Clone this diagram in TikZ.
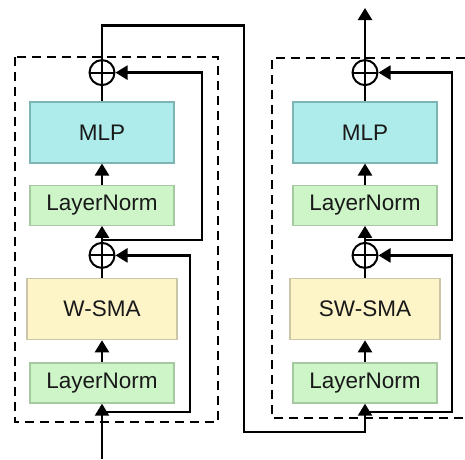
\documentclass[tikz,border=0pt]{standalone}
\usepackage{fontspec}
\setmainfont{Liberation Sans}
\usetikzlibrary{positioning,arrows.meta}
\definecolor{mlpfill}{HTML}{AEEBEB}
\definecolor{mlpline}{HTML}{7DB5B5}
\definecolor{normfill}{HTML}{CDF5C8}
\definecolor{normline}{HTML}{A6C9A2}
\definecolor{attnfill}{HTML}{FDF4C8}
\definecolor{attnline}{HTML}{CBC6A8}
\begin{document}
\begin{tikzpicture}[x=1pt,y=-1pt,node distance=20pt,
blk/.style={draw,line width=1.4pt,minimum width=144pt,font=\fontsize{22.5}{26}\selectfont,text=black!90},
mlp/.style={blk,fill=mlpfill,draw=mlpline,minimum height=61pt},
norm/.style={blk,fill=normfill,draw=normline,minimum height=40pt},
attn/.style={blk,fill=attnfill,draw=attnline,minimum width=150pt,minimum height=61pt},
plus/.style={draw,circle,line width=2pt,minimum size=25pt,inner sep=0pt,
  path picture={\draw[line width=2pt](path picture bounding box.north)--(path picture bounding box.south)
  (path picture bounding box.west)--(path picture bounding box.east);}},
line/.style={line width=2.4pt},
arrow/.style={line,-{Triangle[length=12pt,width=14pt]}},
frame/.style={line width=2pt,dash pattern=on 9pt off 6pt}]
\useasboundingbox (0,0) rectangle (465,459);
% first block
\node[norm](lnA) at (102,383){LayerNorm};
\node[attn,above=22pt of lnA](wsma){W-SMA};
\node[plus,above=9pt of wsma](addA){};
\node[norm,above=16pt of addA](lnB){LayerNorm};
\node[mlp,above=21pt of lnB](mlpA){MLP};
\node[plus,above=15pt of mlpA](addB){};
% second block
\node[norm](lnC) at (365,383){LayerNorm};
\node[attn,above=22pt of lnC](swsma){SW-SMA};
\node[plus,above=9pt of swsma](addC){};
\node[norm,above=16pt of addC](lnD){LayerNorm};
\node[mlp,above=21pt of lnD](mlpB){MLP};
\node[plus,above=15pt of mlpB](addD){};
\draw[frame](15,57) rectangle (218,422);
\draw[frame](465,58)-|(272,418)--(465,418);
\coordinate(inA) at (102,459);
\coordinate(jump) at (244,432);
\coordinate(out) at (365,8);
\coordinate[below=8pt of lnA](jA);\coordinate[above=2pt of addA](jB);
\coordinate[below=8pt of lnC](jC);\coordinate[above=2pt of addC](jD);
\draw[arrow](inA)--(lnA);\draw[arrow](lnA)--(wsma);
\draw[line](wsma)--(addA);\draw[arrow](addA)--(lnB);\draw[arrow](lnB)--(mlpA);\draw[line](mlpA)--(addB);
\draw[arrow](jA)--++(88,0)|-(addA);
\draw[arrow](jB)--++(100,0)|-(addB);
\draw[arrow](addB)--++(0,-47)-|(jump)-|(lnC.south);
\draw[arrow](lnC)--(swsma);\draw[line](swsma)--(addC);\draw[arrow](addC)--(lnD);\draw[arrow](lnD)--(mlpB);\draw[line](mlpB)--(addD);
\draw[arrow](jC)--++(87,0)|-(addC);
\draw[arrow](jD)--++(87,0)|-(addD);
\draw[arrow](addD)--(out);
\end{tikzpicture}
\end{document}
